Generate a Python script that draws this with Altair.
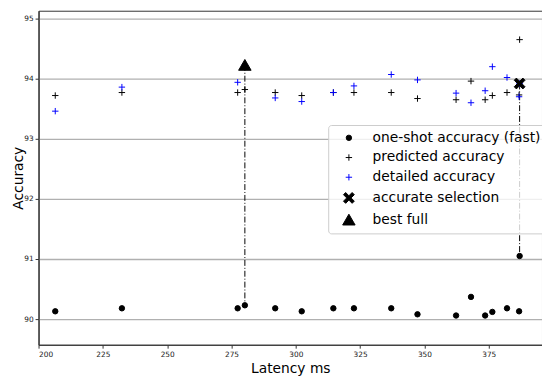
import altair as alt
import pandas as pd

# Latency (ms) of each evaluated configuration
latency = [206.5, 232.4, 277.4, 280.2, 292.0, 302.3, 314.6, 322.6, 337.1,
           347.3, 362.3, 368.1, 373.6, 376.4, 382.1, 386.8, 387.0]
one_shot = [90.13, 90.18, 90.18, 90.23, 90.18, 90.13, 90.18, 90.18, 90.18,
            90.08, 90.06, 90.37, 90.06, 90.12, 90.18, 90.13, 91.05]
predicted = [93.72, 93.77, 93.77, 93.82, 93.77, 93.72, 93.77, 93.77, 93.77,
             93.67, 93.65, 93.96, 93.65, 93.72, 93.77, 93.73, 94.65]
detailed = [93.46, 93.86, 93.94, 94.23, 93.68, 93.62, 93.77, 93.88, 94.07,
            93.98, 93.76, 93.60, 93.80, 94.20, 94.02, 93.70, 93.92]

accurate_sel = (387.0, 93.92)
best_full = (280.2, 94.23)

# vertical connectors: (latency, top, bottom)
connectors = [(280.2, 94.23, 90.23), (387.0, 93.92, 91.05)]

series_names = ["one-shot accuracy (fast)", "predicted accuracy",
                "detailed accuracy", "accurate selection", "best full"]

rows = []
for x, v in zip(latency, one_shot):
    rows.append({"series": series_names[0], "latency": x, "acc": v})
for x, v in zip(latency, predicted):
    rows.append({"series": series_names[1], "latency": x, "acc": v})
for x, v in zip(latency, detailed):
    rows.append({"series": series_names[2], "latency": x, "acc": v})
rows.append({"series": series_names[3], "latency": accurate_sel[0], "acc": accurate_sel[1]})
rows.append({"series": series_names[4], "latency": best_full[0], "acc": best_full[1]})
df = pd.DataFrame(rows)
df["order"] = df["series"].map({s: i for i, s in enumerate(series_names)})

lines_df = pd.DataFrame(connectors, columns=["latency", "top", "bottom"])

xscale = alt.Scale(domain=[200, 395.7], nice=False, zero=False)
yscale = alt.Scale(domain=[89.574, 95.131], nice=False, zero=False)

plus_path = "M-1,0L1,0M0,-1L0,1"
x_path = ("M-1,-0.6L-0.6,-1L0,-0.4L0.6,-1L1,-0.6L0.4,0L1,0.6L0.6,1L0,0.4"
          "L-0.6,1L-1,0.6L-0.4,0Z")

fill_range = ["black", "transparent", "transparent", "black", "black"]
stroke_range = ["black", "black", "blue", "black", "black"]
shape_range = ["circle", plus_path, plus_path, x_path, "triangle-up"]
size_range = [30, 42, 42, 120, 160]

legend = alt.Legend(title=None, orient="none", legendX=294, legendY=116,
                    fillColor="rgba(255,255,255,0.8)", strokeColor="#cccccc",
                    cornerRadius=3, padding=6, rowPadding=6,
                    symbolOffset=8, labelOffset=17, labelLimit=300,
                    labelFont="DejaVu Sans", labelFontSize=14, labelColor="black",
                    symbolStrokeWidth=1)

points = alt.Chart(df).mark_point(filled=True, opacity=1, strokeWidth=1).encode(
    x=alt.X("latency:Q", scale=xscale, title="Latency ms",
            axis=alt.Axis(values=[200, 225, 250, 275, 300, 325, 350, 375], grid=False, format="d")),
    y=alt.Y("acc:Q", scale=yscale, title="Accuracy",
            axis=alt.Axis(values=[90, 91, 92, 93, 94, 95], grid=True, format="d")),
    shape=alt.Shape("series:N", scale=alt.Scale(domain=series_names, range=shape_range), legend=legend),
    fill=alt.Fill("series:N", scale=alt.Scale(domain=series_names, range=fill_range), legend=legend),
    stroke=alt.Stroke("series:N", scale=alt.Scale(domain=series_names, range=stroke_range), legend=legend),
    size=alt.Size("series:N", scale=alt.Scale(type="ordinal", domain=series_names, range=size_range), legend=legend),
    order=alt.Order("order:Q"),
)

rules = alt.Chart(lines_df).mark_rule(color="black", strokeWidth=1, strokeDash=[6, 2, 1, 2]).encode(
    x=alt.X("latency:Q", scale=xscale),
    y=alt.Y("top:Q", scale=yscale),
    y2="bottom:Q",
)

chart = alt.layer(rules, points).properties(
    width=511, height=339,
    padding={"left": 31, "top": 0, "right": 0, "bottom": 31},
    autosize=alt.AutoSizeParams(type="none"),
).configure_view(
    stroke="#333333", strokeWidth=1
).configure_axis(
    labelFont="DejaVu Sans", labelFontSize=7.5, labelColor="#222222",
    titleFont="DejaVu Sans", titleFontSize=14, titleFontWeight="normal", titleColor="black",
    domainColor="#333333", domainWidth=1.2, tickColor="#333333", tickSize=3.5,
    gridColor="#b0b0b0", gridWidth=1.3, labelPadding=2,
).configure_axisX(titlePadding=4).configure_axisY(titlePadding=-2)

chart.save("out.html", embed_options={"renderer": "svg", "actions": False})
